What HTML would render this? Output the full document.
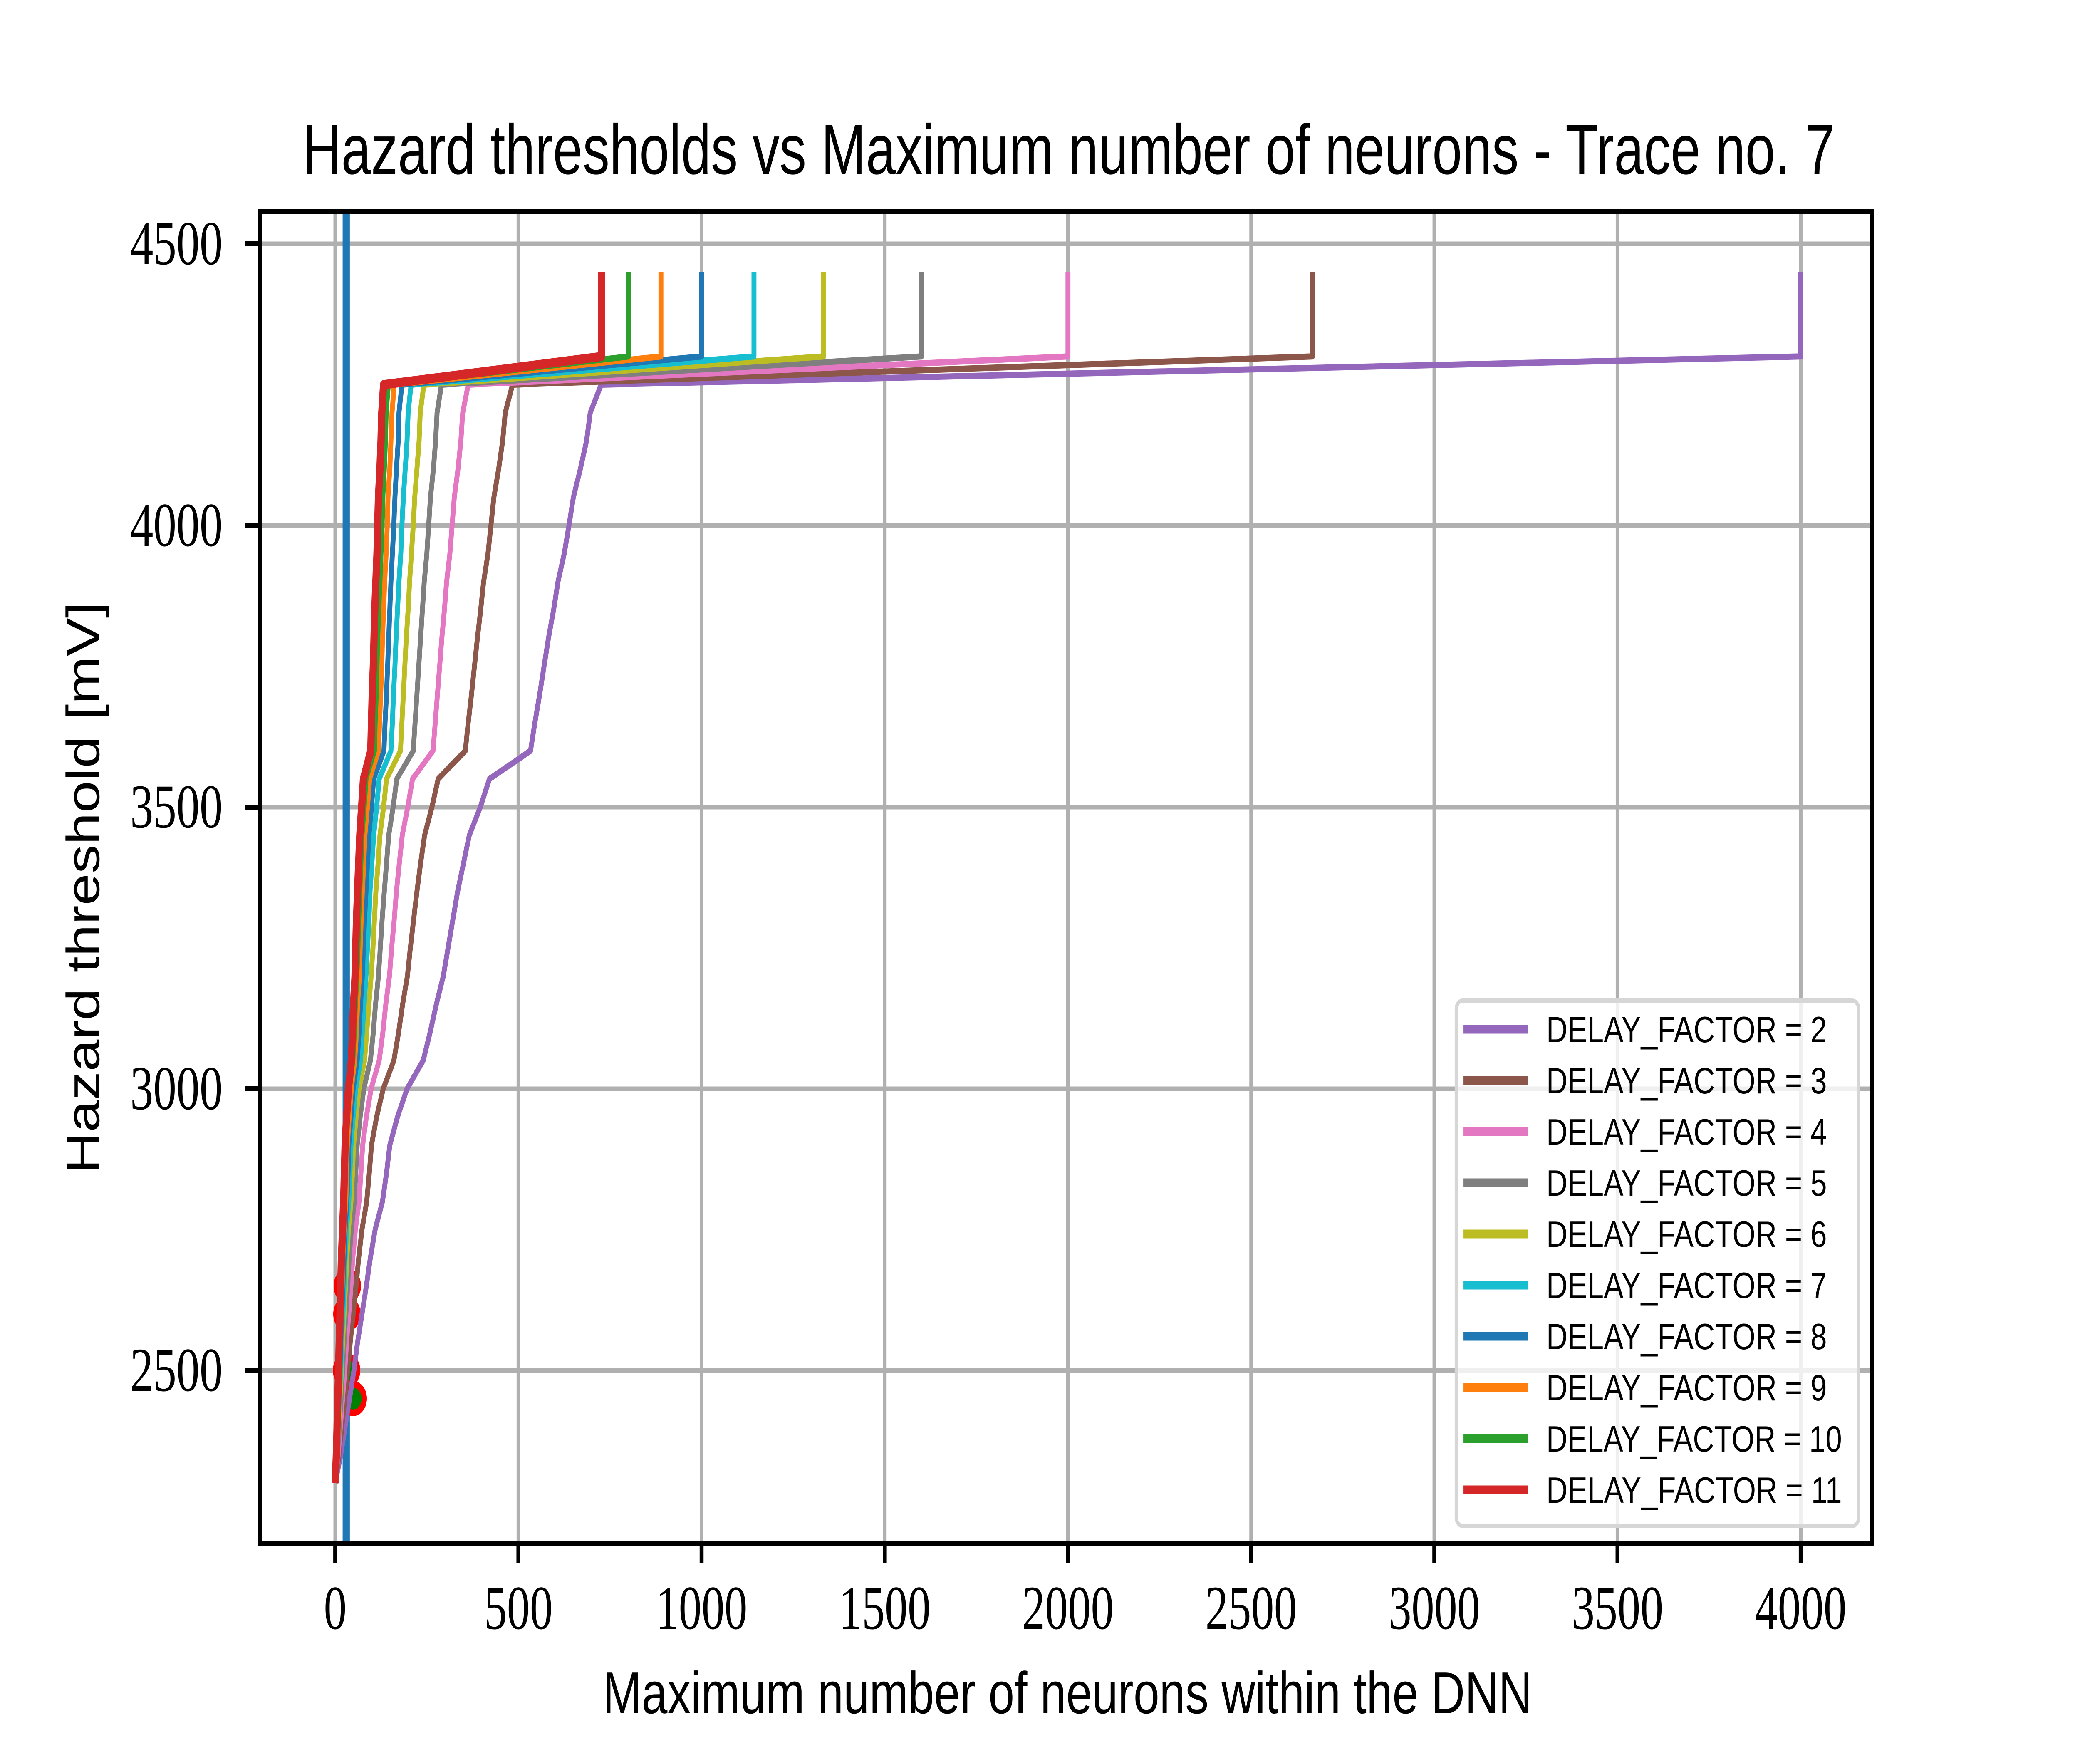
<!DOCTYPE html>
<html><head><meta charset="utf-8"><style>
html,body{margin:0;padding:0;background:#fff;width:100%;height:100%;overflow:hidden;}
svg{display:block;width:100vw;height:100vh;}
</style></head><body>
<svg id="chart" xmlns="http://www.w3.org/2000/svg" viewBox="0 0 6360 4240" preserveAspectRatio="none">
<rect x="0" y="0" width="6360" height="4240" fill="#fff"/>
<g id="grid"></g>
<g id="series"></g>
<g id="axes"></g>
<g id="legend"></g>
<text x="925" y="418" font-family="Liberation Sans, DejaVu Sans, sans-serif" font-size="170" textLength="4685" lengthAdjust="spacingAndGlyphs">Hazard thresholds vs Maximum number of neurons - Trace no. 7</text>
<text x="1843" y="4118" font-family="Liberation Sans, DejaVu Sans, sans-serif" font-size="142" textLength="2842" lengthAdjust="spacingAndGlyphs">Maximum number of neurons within the DNN</text>
<text transform="translate(303,2134) rotate(-90)" text-anchor="middle" font-family="Liberation Sans, DejaVu Sans, sans-serif" font-size="142" textLength="1374" lengthAdjust="spacingAndGlyphs">Hazard threshold [mV]</text>
</svg>
<script>
const yLevels = [2300,2350,2400,2450,2500,2550,2600,2650,2700,2750,2800,2850,2900,2950,3000,3050,3100,3150,3200,3250,3300,3350,3400,3450,3500,3550,3600,3650,3700,3750,3800,3850,3900,3950,4000,4050,4100,4150,4200,4250];
const factors = [2,3,4,5,6,7,8,9,10,11];
const seriesColors = ['#9467bd','#8c564b','#e377c2','#7f7f7f','#bcbd22','#17becf','#1f77b4','#ff7f0e','#2ca02c','#d62728'];
const xF2 = [0,15,27,39,51,61,73,85,96,109,129,140,149,170,196,240,259,276,295,308,321,334,350,366,396,421,533,545,558,570,582,596,608,625,638,650,669,686,696,726];
const xF3 = [0,10,18,26,34,41,49,57,64,73,86,93,99,113,131,160,173,184,197,205,214,223,233,244,264,281,355,363,372,380,388,397,405,417,425,433,446,457,464,484];
const xF4 = [0,8,14,20,26,31,37,43,48,55,65,70,75,85,98,120,130,138,148,154,161,167,175,183,198,211,267,273,279,285,291,298,304,313,319,325,335,343,348,363];
const xF5 = [0,6,11,16,20,24,29,34,38,44,52,56,60,68,78,96,104,110,118,123,128,134,140,146,158,168,213,218,223,228,233,238,243,250,255,260,268,274,278,290];
const xF6 = [0,5,9,13,17,20,24,28,32,36,43,47,50,57,65,80,86,92,98,103,107,111,117,122,132,140,178,182,186,190,194,199,203,208,213,217,223,229,232,242];
const xF7 = [0,4,8,11,15,17,21,24,27,31,37,40,43,49,56,69,74,79,84,88,92,95,100,105,113,120,152,156,159,163,166,170,174,179,182,186,191,196,199,207];
const xF8 = [0,4,7,10,13,15,18,21,24,27,32,35,37,43,49,60,65,69,74,77,80,84,88,92,99,105,133,136,140,143,146,149,152,156,160,163,167,172,174,182];
const xF9 = [0,3,6,9,11,14,16,19,21,24,29,31,33,38,44,53,58,61,66,68,71,74,78,81,88,94,118,121,124,127,129,132,135,139,142,144,149,152,155,161];
const xF10 = [0,3,5,8,10,12,15,17,19,22,26,28,30,34,39,48,52,55,59,62,64,67,70,73,79,84,107,109,112,114,116,119,122,125,128,130,134,137,139,145];
const xF11 = [0,3,5,7,9,11,13,15,17,20,23,25,27,31,36,44,47,50,54,56,58,61,64,67,72,77,97,99,101,104,106,108,111,114,116,118,122,125,127,132];
const xMax = [4000,2667,2000,1600,1333,1143,1000,889,800,727];
const jumpY = [4300,4450];
const verticalLineX = 30;
const markerX = [33,32,31,49];
const markerY = [2650,2600,2500,2450];
const xTicks = [0,500,1000,1500,2000,2500,3000,3500,4000];
const yTicks = [2500,3000,3500,4000,4500];

const NS='http://www.w3.org/2000/svg';
const L=795,R=5724,T=509,B=3710;
function sx(v){return 1025+v*1.12025;}
function sy(v){return 586+(4500-v)*1.354;}
function mk(tag,attrs,parent){const e=document.createElementNS(NS,tag);for(const k in attrs)e.setAttribute(k,attrs[k]);parent.appendChild(e);return e;}
const grid=document.getElementById('grid'),ser=document.getElementById('series'),axes=document.getElementById('axes'),leg=document.getElementById('legend');
const allX=[xF2,xF3,xF4,xF5,xF6,xF7,xF8,xF9,xF10,xF11];

xTicks.forEach(v=>{
  const g=mk('line',{x1:sx(v),x2:sx(v),y1:T,y2:B,stroke:'#b0b0b0','stroke-width':11},grid);
  
  
});
yTicks.forEach(v=>{
  const g=mk('line',{x1:L,x2:R,y1:sy(v),y2:sy(v),stroke:'#b0b0b0','stroke-width':11},grid);
  
  
});

const vl=mk('line',{x1:sx(verticalLineX),x2:sx(verticalLineX),y1:T,y2:B,stroke:'#1f77b4','stroke-width':22},ser);



markerX.forEach((v,i)=>{
  const c=mk('circle',{cx:sx(v),cy:sy(markerY[i]),r:34,fill:'#008000',stroke:'#ff0000','stroke-width':16},ser);
  
  
});

allX.forEach((xs,si)=>{
  let pts=xs.map((v,i)=>sx(v).toFixed(1)+','+sy(yLevels[i]).toFixed(1));
  pts.push(sx(xMax[si]).toFixed(1)+','+sy(jumpY[0]).toFixed(1));
  pts.push(sx(xMax[si]).toFixed(1)+','+sy(jumpY[1]).toFixed(1));
  const p=mk('polyline',{points:pts.join(' '),fill:'none',stroke:seriesColors[si],'stroke-width':si===9?22:15,'stroke-linejoin':'round','stroke-linecap':'butt'},ser);
  
  
});

const fr=mk('rect',{x:L,y:T,width:R-L,height:B-T,fill:'none',stroke:'#000','stroke-width':12},axes);


xTicks.forEach(v=>{
  const t=mk('line',{x1:sx(v),x2:sx(v),y1:B,y2:B+47,stroke:'#000','stroke-width':12},axes);
  
  
  const s=String(v);
  const lab=mk('text',{x:sx(v),y:3915,'text-anchor':'middle','font-family':'Liberation Serif, DejaVu Serif, serif','font-size':150,textLength:s.length*70,lengthAdjust:'spacingAndGlyphs'},axes);
  lab.textContent=s;
  
  
});
yTicks.forEach(v=>{
  const t=mk('line',{x1:L-47,x2:L,y1:sy(v),y2:sy(v),stroke:'#000','stroke-width':12},axes);
  
  
  const lab=mk('text',{x:681,y:sy(v)+49,'text-anchor':'end','font-family':'Liberation Serif, DejaVu Serif, serif','font-size':150,textLength:283,lengthAdjust:'spacingAndGlyphs'},axes);
  lab.textContent=String(v);
  
  
});

const lb=mk('rect',{x:4453,y:2405,width:1230,height:1263,rx:20,fill:'rgba(255,255,255,0.8)',stroke:'#d6d6d6','stroke-width':10},leg);


factors.forEach((f,i)=>{
  const y=2474+i*123;
  const h=mk('line',{x1:4475,x2:4672,y1:y,y2:y,stroke:seriesColors[i],'stroke-width':21},leg);
  
  
  const t=mk('text',{x:4728,y:y+31,'font-family':'Liberation Sans, DejaVu Sans, sans-serif','font-size':88,textLength:f>=10?904:858,lengthAdjust:'spacingAndGlyphs'},leg);
  t.textContent='DELAY_FACTOR = '+f;
  
  
});
</script>
</body></html>
